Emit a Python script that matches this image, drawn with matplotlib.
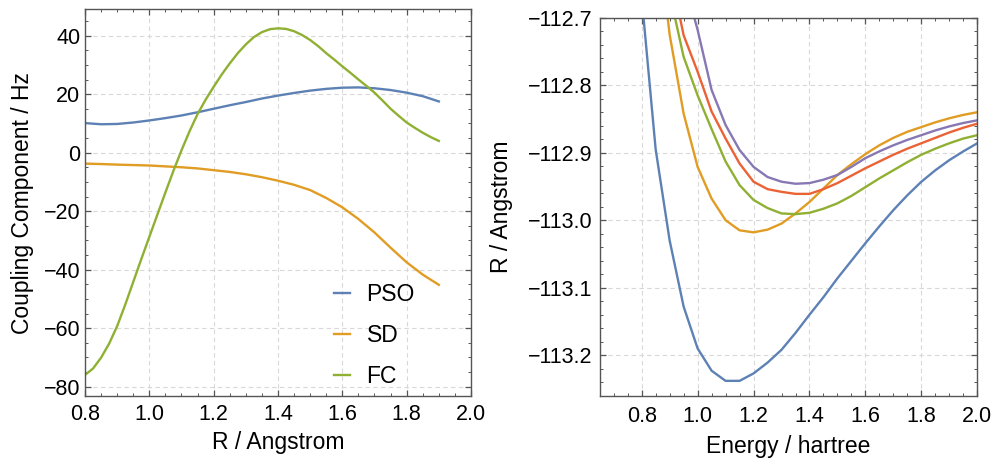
import numpy as np
import matplotlib
matplotlib.use("Agg")
import matplotlib.pyplot as plt
from matplotlib.ticker import MultipleLocator

plt.rcParams['font.family'] = ['Liberation Sans', 'DejaVu Sans']

# ---------------- data: left panel ----------------
r_left = [0.80, 0.85, 0.90, 0.95, 1.00, 1.05, 1.10, 1.15, 1.20, 1.25, 1.30, 1.35,
          1.40, 1.45, 1.50, 1.55, 1.60, 1.65, 1.70, 1.75, 1.80, 1.85, 1.90]
pso = [10.1, 9.7, 9.8, 10.3, 11.0, 11.8, 12.7, 13.8, 15.0, 16.2, 17.3, 18.5,
       19.5, 20.4, 21.2, 21.8, 22.2, 22.3, 22.0, 21.4, 20.5, 19.3, 17.5]
sd = [-3.75, -3.9, -4.1, -4.25, -4.4, -4.7, -5.0, -5.4, -6.0, -6.6, -7.4, -8.4,
      -9.6, -11.0, -12.8, -15.5, -18.7, -22.7, -27.3, -32.5, -37.5, -41.7, -45.2]
r_fc = [0.800, 0.825, 0.850, 0.875, 0.900, 0.925, 0.950, 0.975, 1.000, 1.025, 1.050,
        1.075, 1.100, 1.125, 1.150, 1.175, 1.200, 1.225, 1.250, 1.275, 1.300, 1.325,
        1.350, 1.375, 1.400, 1.425, 1.450, 1.475, 1.500, 1.525, 1.550, 1.575, 1.600,
        1.625, 1.650, 1.675, 1.700, 1.725, 1.750, 1.775, 1.800, 1.825, 1.850, 1.875,
        1.900]
fc = [-76.0, -73.8, -70.1, -65.3, -59.3, -52.0, -44.2, -36.4, -28.8, -21.2, -13.6,
      -6.2, 0.8, 7.3, 13.2, 18.1, 22.5, 26.7, 30.5, 34.0, 37.0, 39.5,
      41.2, 42.2, 42.5, 42.3, 41.5, 40.2, 38.5, 36.4, 34.0, 31.8, 29.5,
      27.3, 25.0, 22.8, 20.5, 17.8, 15.0, 12.6, 10.3, 8.5, 6.8, 5.3,
      4.0]
left_labels = ["PSO", "SD", "FC"]

# ---------------- data: right panel ----------------
x_blue = [0.80, 0.85, 0.90, 0.95, 1.00, 1.05, 1.10, 1.15, 1.20, 1.25, 1.30, 1.35, 1.40,
          1.45, 1.50, 1.55, 1.60, 1.65, 1.70, 1.75, 1.80, 1.85, 1.90, 1.95, 2.00]
e_blue = [-112.67, -112.895, -113.03, -113.128, -113.19, -113.223, -113.238, -113.238,
          -113.227, -113.211, -113.192, -113.167, -113.14, -113.114, -113.086, -113.06,
          -113.034, -113.009, -112.985, -112.963, -112.943, -112.926, -112.911, -112.898,
          -112.886]
x_orange = x_blue[1:]
e_orange = [-112.55, -112.725, -112.842, -112.921, -112.968, -113.0, -113.015, -113.018,
            -113.014, -113.005, -112.99, -112.973, -112.953, -112.933, -112.917, -112.902,
            -112.889, -112.878, -112.869, -112.862, -112.855, -112.849, -112.844, -112.840]
x_green = x_blue[2:]
e_green = [-112.664, -112.758, -112.815, -112.865, -112.913, -112.948, -112.97, -112.982,
           -112.99, -112.991, -112.989, -112.983, -112.975, -112.964, -112.951, -112.938,
           -112.926, -112.914, -112.903, -112.894, -112.886, -112.879, -112.874]
x_red = x_blue[2:]
e_red = [-112.626, -112.726, -112.78, -112.839, -112.879, -112.916, -112.943, -112.954,
         -112.958, -112.961, -112.961, -112.954, -112.945, -112.934, -112.923, -112.913,
         -112.903, -112.894, -112.886, -112.878, -112.870, -112.863, -112.857]
x_purple = x_blue[3:]
e_purple = [-112.643, -112.718, -112.807, -112.859, -112.896, -112.921, -112.936, -112.943,
            -112.946, -112.945, -112.94, -112.933, -112.921, -112.908, -112.898, -112.889,
            -112.881, -112.874, -112.867, -112.861, -112.856, -112.852]

C_BLUE = '#5E81B5'
C_ORANGE = '#E19C24'
C_GREEN = '#8FB032'
C_RED = '#EB6235'
C_PURPLE = '#8778B3'

FRAME = '#555555'
GRID = '#d8d8d8'

fig = plt.figure(figsize=(9.95, 4.58), dpi=100)
axL = fig.add_axes([85/995, 62/458, 386/995, 386.7/458])
axR = fig.add_axes([600/995, 62.3/458, 377.3/995, 378/458])


def style(ax, xmaj, xmin, ymaj, ymin, pad_y, pad_x):
    for s in ax.spines.values():
        s.set_color(FRAME)
        s.set_linewidth(1.0)
    ax.xaxis.set_major_locator(MultipleLocator(xmaj))
    ax.xaxis.set_minor_locator(MultipleLocator(xmin))
    ax.yaxis.set_major_locator(MultipleLocator(ymaj))
    ax.yaxis.set_minor_locator(MultipleLocator(ymin))
    ax.tick_params(which='both', direction='in', top=True, right=True,
                   color=FRAME, labelsize=15.5, labelcolor='black')
    ax.tick_params(which='major', length=4, width=0.9)
    ax.tick_params(which='minor', length=2.2, width=0.7)
    ax.tick_params(axis='y', which='major', pad=pad_y)
    ax.tick_params(axis='x', which='major', pad=pad_x)
    ax.grid(True, which='major', color=GRID, linestyle=(0, (4, 3)), linewidth=0.8)
    ax.set_axisbelow(True)


# ---------------- left panel ----------------
lw = 1.7
axL.plot(r_left, pso, color=C_BLUE, lw=lw, label=left_labels[0])
axL.plot(r_left, sd, color=C_ORANGE, lw=lw, label=left_labels[1])
axL.plot(r_fc, fc, color=C_GREEN, lw=lw, label=left_labels[2])
axL.set_xlim(0.8, 2.0)
axL.set_ylim(-83.2, 49.0)
style(axL, 0.2, 0.05, 20, 5, 3.5, 6)
axL.set_xlabel("R / Angstrom", fontsize=16.5, va='center')
axL.set_ylabel("Coupling Component / Hz", fontsize=16.5, va='center')
axL.xaxis.set_label_coords(0.5, -0.1215)
axL.yaxis.set_label_coords(-0.163, 0.5)
leg = axL.legend(loc='upper left', bbox_to_anchor=(0.645, 0.292), frameon=False,
                 fontsize=16.5, handlelength=0.7, handletextpad=0.72,
                 labelspacing=0.78, borderpad=0, borderaxespad=0)

# ---------------- right panel ----------------
axR.plot(x_blue, e_blue, color=C_BLUE, lw=lw)
axR.plot(x_orange, e_orange, color=C_ORANGE, lw=lw)
axR.plot(x_green, e_green, color=C_GREEN, lw=lw)
axR.plot(x_red, e_red, color=C_RED, lw=lw)
axR.plot(x_purple, e_purple, color=C_PURPLE, lw=lw)
axR.set_xlim(0.651, 2.0)
axR.set_ylim(-113.26, -112.7)
style(axR, 0.2, 0.05, 0.1, 0.02, 5.5, 7.5)
axR.set_xlabel("Energy / hartree", fontsize=16.5, va='center')
axR.set_ylabel("R / Angstrom", fontsize=16.5, va='center')
axR.xaxis.set_label_coords(0.5, -0.1357)
axR.yaxis.set_label_coords(-0.2605, 0.5)

fig.savefig("out.png", dpi=100)
